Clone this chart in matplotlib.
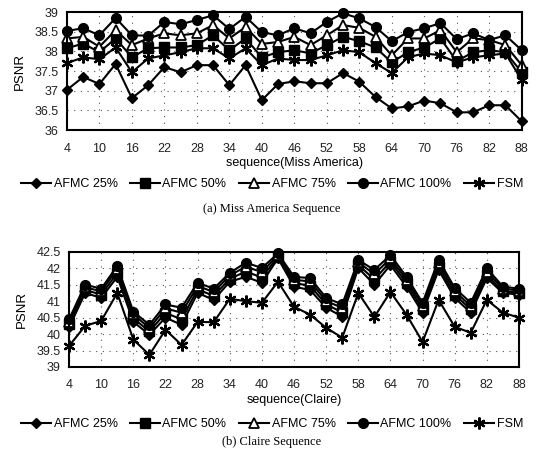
import matplotlib
matplotlib.use("Agg")
import matplotlib.pyplot as plt
from matplotlib.lines import Line2D

frames = [4, 7, 10, 13, 16, 19, 22, 25, 28, 31, 34, 37, 40, 43, 46,
          49, 52, 55, 58, 61, 64, 67, 70, 73, 76, 79, 82, 85, 88]
xticks = [4, 10, 16, 22, 28, 34, 40, 46, 52, 58, 64, 70, 76, 82, 88]
labels = ["AFMC 25%", "AFMC 50%", "AFMC 75%", "AFMC 100%", "FSM"]

# Miss America
ma_25 = [37.02, 37.35, 37.17, 37.68, 36.81, 37.14, 37.60, 37.47, 37.65, 37.65, 37.14, 37.65, 36.76, 37.17, 37.24,
         37.19, 37.19, 37.45, 37.23, 36.84, 36.55, 36.60, 36.75, 36.68, 36.45, 36.45, 36.63, 36.63, 36.22]
ma_50 = [38.08, 38.20, 37.98, 38.33, 37.85, 38.08, 38.10, 38.10, 38.16, 38.41, 38.03, 38.33, 37.85, 37.98, 38.03,
         37.95, 38.16, 38.37, 38.26, 38.10, 37.72, 37.98, 38.10, 38.33, 37.75, 37.98, 38.03, 37.98, 37.47]
ma_75 = [38.33, 38.37, 38.12, 38.54, 38.16, 38.33, 38.46, 38.41, 38.46, 38.67, 38.33, 38.62, 38.19, 38.24, 38.37,
         38.16, 38.41, 38.67, 38.60, 38.37, 37.90, 38.33, 38.33, 38.54, 37.98, 38.33, 38.29, 38.16, 37.65]
ma_100 = [38.52, 38.59, 38.41, 38.85, 38.41, 38.40, 38.75, 38.69, 38.80, 38.92, 38.57, 38.88, 38.49, 38.41, 38.59,
          38.46, 38.75, 38.97, 38.84, 38.62, 38.26, 38.49, 38.59, 38.72, 38.31, 38.46, 38.29, 38.41, 38.03]
ma_fsm = [37.70, 37.85, 37.80, 38.10, 37.47, 37.82, 37.90, 37.98, 38.08, 38.08, 37.82, 38.08, 37.65, 37.82, 37.78,
          37.78, 37.90, 38.03, 37.98, 37.70, 37.45, 37.85, 37.95, 37.90, 37.72, 37.85, 37.90, 37.95, 37.27]

# Claire
cl_25 = [40.20, 41.25, 41.10, 41.74, 40.37, 39.98, 40.50, 40.28, 41.25, 41.04, 41.59, 41.74, 41.56, 42.30, 41.44,
         41.34, 40.80, 40.53, 42.01, 41.50, 42.10, 41.44, 40.65, 41.95, 41.10, 40.65, 41.70, 41.25, 41.20]
cl_50 = [40.30, 41.34, 41.20, 41.86, 40.48, 40.08, 40.64, 40.45, 41.36, 41.16, 41.68, 41.90, 41.72, 42.35, 41.55,
         41.47, 40.90, 40.66, 42.10, 41.66, 42.20, 41.55, 40.75, 42.05, 41.20, 40.75, 41.80, 41.30, 41.26]
cl_75 = [40.38, 41.42, 41.30, 41.98, 40.60, 40.18, 40.78, 40.65, 41.46, 41.28, 41.78, 42.05, 41.88, 42.40, 41.65,
         41.60, 41.00, 40.80, 42.18, 41.82, 42.30, 41.65, 40.86, 42.16, 41.30, 40.85, 41.90, 41.38, 41.32]
cl_100 = [40.45, 41.50, 41.38, 42.07, 40.68, 40.28, 40.90, 40.80, 41.56, 41.38, 41.86, 42.17, 42.01, 42.45, 41.74,
          41.70, 41.10, 40.90, 42.25, 41.95, 42.40, 41.74, 40.95, 42.26, 41.40, 40.95, 42.00, 41.44, 41.38]
cl_fsm = [39.64, 40.25, 40.40, 41.25, 39.83, 39.37, 40.13, 39.67, 40.37, 40.36, 41.07, 41.00, 40.95, 41.59, 40.83,
          40.59, 40.19, 39.89, 41.25, 40.52, 41.28, 40.59, 39.76, 41.04, 40.22, 40.04, 41.04, 40.65, 40.50]

plt.rcParams['font.family'] = ['Liberation Sans', 'DejaVu Sans']

styles = [
    dict(marker='D', markersize=5.5, mfc='black'),
    dict(marker='s', markersize=6.5, mfc='black'),
    dict(marker='^', markersize=6.5, mfc='white', mew=1.3),
    dict(marker='o', markersize=7, mfc='black'),
    dict(marker=(6, 2, 0), markersize=8.5, mew=1.6),
]

fig = plt.figure(figsize=(5.44, 4.57), dpi=100)


def draw(ax, series, ylim, yticks, ytl):
    for ys, st in zip(series, styles):
        ax.plot(frames, ys, color='black', lw=1.5, mec='black', clip_on=False, **st)
    ax.set_xlim(4, 88)
    ax.set_ylim(*ylim)
    ax.set_xticks(xticks)
    ax.set_yticks(yticks)
    ax.set_yticklabels(ytl)
    ax.grid(True, color='#555555', linestyle=(0, (1, 5)), lw=0.8)
    ax.tick_params(length=0, labelsize=9, colors='#222222')
    ax.tick_params(axis='x', pad=9)
    ax.tick_params(axis='y', pad=6)
    for s in ax.spines.values():
        s.set_linewidth(1.5)
    ax.set_ylabel('PSNR', fontsize=9.5, labelpad=6)


ax1 = fig.add_axes([0.123, 0.7155, 0.836, 0.258])
draw(ax1, [ma_25, ma_50, ma_75, ma_100, ma_fsm], (36, 39),
     [36, 36.5, 37, 37.5, 38, 38.5, 39], ["36", "36.5", "37", "37.5", "38", "38.5", "39"])
ax1.set_xlabel('sequence(Miss America)', fontsize=9, labelpad=2)

ax2 = fig.add_axes([0.127, 0.197, 0.827, 0.252])
draw(ax2, [cl_25, cl_50, cl_75, cl_100, cl_fsm], (39, 42.5),
     [39, 39.5, 40, 40.5, 41, 41.5, 42, 42.5],
     ["39", "39.5", "40", "40.5", "41", "41.5", "42", "42.5"])
ax2.set_xlabel('sequence(Claire)', fontsize=9, labelpad=2)

handles = [Line2D([], [], color='black', lw=1.5, mec='black', **st) for st in styles]
for yc in (1 - 184 / 457, 1 - 424 / 457):
    fig.legend(handles, labels, loc='center', bbox_to_anchor=(0.5, yc), ncol=5,
               frameon=False, fontsize=9, handlelength=2.4, handletextpad=0.2,
               columnspacing=1.0, borderaxespad=0)

fig.text(0.5, 1 - 209 / 457, '(a) Miss America Sequence', ha='center', va='center',
         fontsize=9, family='Liberation Serif')
fig.text(0.5, 1 - 442 / 457, '(b) Claire Sequence', ha='center', va='center',
         fontsize=9, family='Liberation Serif')

fig.savefig('out.png', dpi=100)
